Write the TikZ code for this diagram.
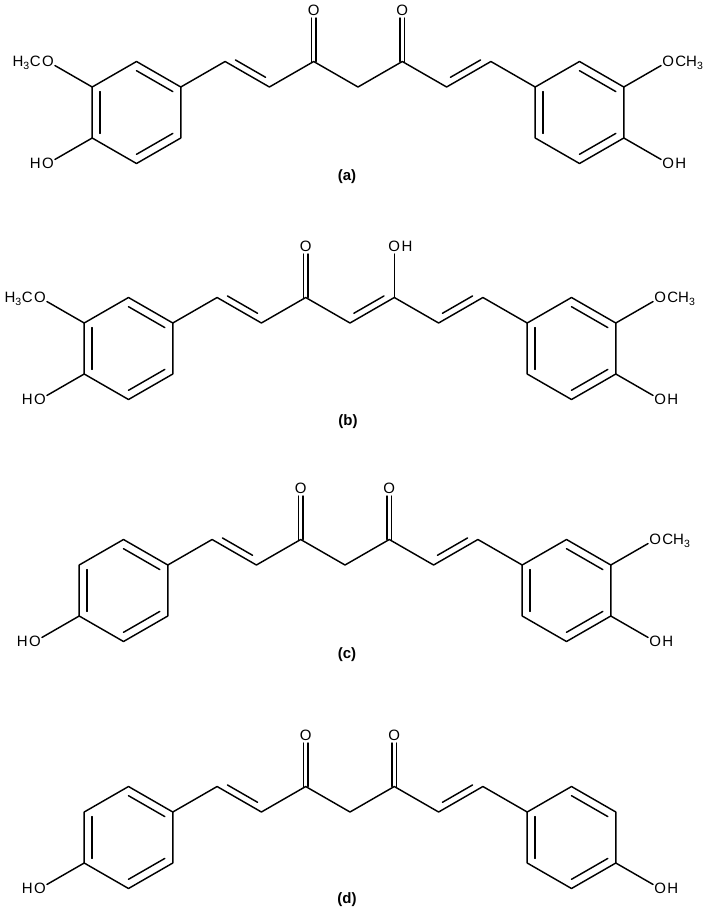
\documentclass[tikz,border=0pt]{standalone}
\usepackage{fontspec}
\setmainfont{Liberation Sans}
\usetikzlibrary{calc}

\tikzset{
    bond/.style={line width=1.45pt, line cap=round, line join=round},
    atom/.style={inner xsep=1pt, inner ysep=2.5pt, font=\fontsize{15}{15}\selectfont},
    tail/.style={inner sep=0pt, font=\fontsize{15}{15}\selectfont},
    tag/.style={inner sep=1pt, font=\bfseries\fontsize{15}{15}\selectfont}
}

\newcommand{\dbond}[2]{\draw[bond] ($(#1)!0.16!(#2)!6.5pt!90:(#2)$) -- ($(#2)!0.16!(#1)!6.5pt!-90:(#1)$);}
\newcommand{\inring}[3]{\draw[bond] ($(#1)!0.18!(#3)$) -- ($(#2)!0.18!(#3)$);}
\newcommand{\carbonyl}[2]{%
    \draw[bond] ([xshift=-2.4pt]#1) -- ([xshift=-2.4pt]#2.south);
    \draw[bond] ([xshift=2.4pt]#1) -- ([xshift=2.4pt]#2.south);}

\newcommand{\curframe}[1]{%
    \coordinate (#1-m) at (0,0);
    \coordinate (#1-l1) at (-44.3,-25.5);
    \coordinate (#1-l2) at (-88.6,0);
    \coordinate (#1-l3) at (-132.9,-25.5);
    \coordinate (#1-r1) at (44.3,-25.5);
    \coordinate (#1-r2) at (88.6,0);
    \coordinate (#1-r3) at (132.9,-25.5);
    \coordinate (#1-la) at (-177.2,0);
    \coordinate (#1-lb) at (-221.5,-25.5);
    \coordinate (#1-lc) at (-265.8,0);
    \coordinate (#1-ld) at (-265.8,51);
    \coordinate (#1-le) at (-221.5,76.5);
    \coordinate (#1-lf) at (-177.2,51);
    \coordinate (#1-lz) at (-221.5,25.5);
    \coordinate (#1-ra) at (177.2,0);
    \coordinate (#1-rb) at (221.5,-25.5);
    \coordinate (#1-rc) at (265.8,0);
    \coordinate (#1-rd) at (265.8,51);
    \coordinate (#1-re) at (221.5,76.5);
    \coordinate (#1-rf) at (177.2,51);
    \coordinate (#1-rz) at (221.5,25.5);
    \node[atom] (#1-o1) at (-44.3,-77) {O};
    \draw[bond] (#1-la) -- (#1-l3) -- (#1-l2) -- (#1-l1) -- (#1-m)
        -- (#1-r1) -- (#1-r2) -- (#1-r3) -- (#1-ra);
    \draw[bond] (#1-la) -- (#1-lb) -- (#1-lc) -- (#1-ld) -- (#1-le) -- (#1-lf) -- cycle;
    \draw[bond] (#1-ra) -- (#1-rb) -- (#1-rc) -- (#1-rd) -- (#1-re) -- (#1-rf) -- cycle;
    \inring{#1-lb}{#1-la}{#1-lz}
    \inring{#1-lc}{#1-ld}{#1-lz}
    \inring{#1-le}{#1-lf}{#1-lz}
    \inring{#1-rb}{#1-rc}{#1-rz}
    \inring{#1-ra}{#1-rf}{#1-rz}
    \inring{#1-re}{#1-rd}{#1-rz}
    \dbond{#1-l3}{#1-l2}
    \dbond{#1-r2}{#1-r3}
    \carbonyl{#1-l1}{#1-o1}}

\begin{document}
\begin{tikzpicture}[x=1pt, y=-1pt]
    \useasboundingbox (0,0) rectangle (709,913);

    \begin{scope}[shift={(358,87)}]
        \curframe{a}
        \node[atom] (a-o2) at (44.3,-77) {O};
        \carbonyl{a-r1}{a-o2}
        \node[atom] (a-o3) at (-310.1,-25.5) {O};
        \node[tail, anchor=base east] (a-me3) at (a-o3.base west) {H\textsubscript{3}C};
        \node[atom] (a-o4) at (-310.1,76.5) {O};
        \node[tail, anchor=base east] (a-h4) at (a-o4.base west) {H};
        \node[atom] (a-o5) at (310.1,-25.5) {O};
        \node[tail, anchor=base west] (a-me5) at (a-o5.base east) {CH\textsubscript{3}};
        \node[atom] (a-o6) at (310.1,76.5) {O};
        \node[tail, anchor=base west] (a-h6) at (a-o6.base east) {H};
        \draw[bond] (a-lc) -- (a-o3);
        \draw[bond] (a-ld) -- (a-o4);
        \draw[bond] (a-rc) -- (a-o5);
        \draw[bond] (a-rd) -- (a-o6);
    \end{scope}
    \node[tag] (a-tag) at (347,177) {(a)};

    \begin{scope}[shift={(350,323)}]
        \curframe{b}
        \node[atom] (b-o2) at (44.3,-77) {O};
        \node[tail, anchor=base west] (b-h2) at (b-o2.base east) {H};
        \draw[bond] (b-r1) -- (b-o2);
        \dbond{b-m}{b-r1}
        \node[atom] (b-o3) at (-310.1,-25.5) {O};
        \node[tail, anchor=base east] (b-me3) at (b-o3.base west) {H\textsubscript{3}C};
        \node[atom] (b-o4) at (-310.1,76.5) {O};
        \node[tail, anchor=base east] (b-h4) at (b-o4.base west) {H};
        \node[atom] (b-o5) at (310.1,-25.5) {O};
        \node[tail, anchor=base west] (b-me5) at (b-o5.base east) {CH\textsubscript{3}};
        \node[atom] (b-o6) at (310.1,76.5) {O};
        \node[tail, anchor=base west] (b-h6) at (b-o6.base east) {H};
        \draw[bond] (b-lc) -- (b-o3);
        \draw[bond] (b-ld) -- (b-o4);
        \draw[bond] (b-rc) -- (b-o5);
        \draw[bond] (b-rd) -- (b-o6);
    \end{scope}
    \node[tag] (b-tag) at (348,422) {(b)};

    \begin{scope}[shift={(345,565)}]
        \curframe{c}
        \node[atom] (c-o2) at (44.3,-77) {O};
        \carbonyl{c-r1}{c-o2}
        \node[atom] (c-o4) at (-310.1,76.5) {O};
        \node[tail, anchor=base east] (c-h4) at (c-o4.base west) {H};
        \node[atom] (c-o5) at (310.1,-25.5) {O};
        \node[tail, anchor=base west] (c-me5) at (c-o5.base east) {CH\textsubscript{3}};
        \node[atom] (c-o6) at (310.1,76.5) {O};
        \node[tail, anchor=base west] (c-h6) at (c-o6.base east) {H};
        \draw[bond] (c-ld) -- (c-o4);
        \draw[bond] (c-rc) -- (c-o5);
        \draw[bond] (c-rd) -- (c-o6);
    \end{scope}
    \node[tag] (c-tag) at (347,655) {(c)};

    \begin{scope}[shift={(350,812)}]
        \curframe{d}
        \node[atom] (d-o2) at (44.3,-77) {O};
        \carbonyl{d-r1}{d-o2}
        \node[atom] (d-o4) at (-310.1,76.5) {O};
        \node[tail, anchor=base east] (d-h4) at (d-o4.base west) {H};
        \node[atom] (d-o6) at (310.1,76.5) {O};
        \node[tail, anchor=base west] (d-h6) at (d-o6.base east) {H};
        \draw[bond] (d-ld) -- (d-o4);
        \draw[bond] (d-rd) -- (d-o6);
    \end{scope}
    \node[tag] (d-tag) at (347,900) {(d)};
\end{tikzpicture}
\end{document}
